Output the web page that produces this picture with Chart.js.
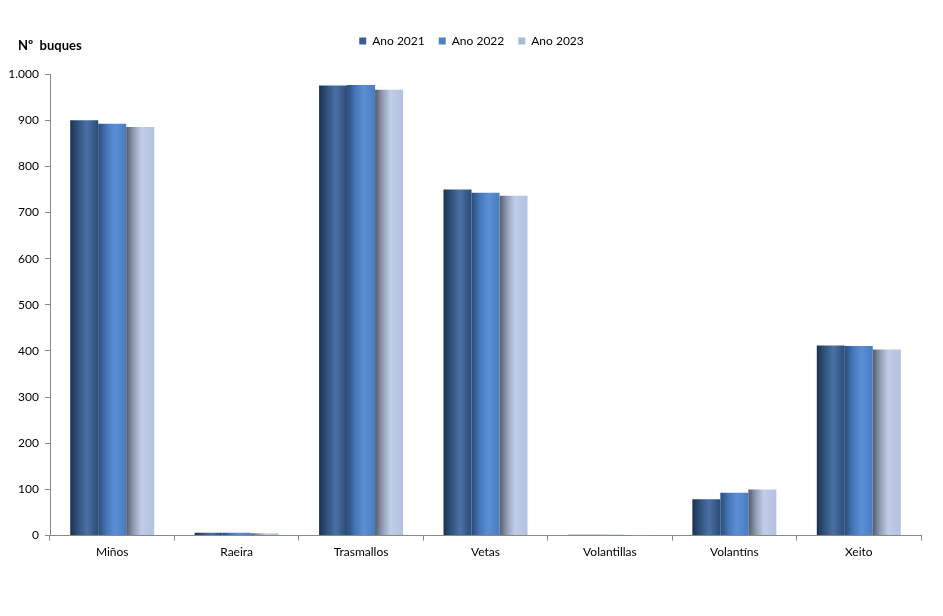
<!DOCTYPE html>
<html>
<head>
<meta charset="utf-8">
<script src="https://cdn.jsdelivr.net/npm/chart.js@4"></script>
<style>
  html, body { margin: 0; padding: 0; background: #fff; }
  #wrap { width: 943px; height: 616px; }
</style>
</head>
<body>
<div id="wrap"><canvas id="chart"></canvas></div>
<script>
const categories = ["Miños", "Raeira", "Trasmallos", "Vetas", "Volantillas", "Volantíns", "Xeito"];
const years = ["Ano 2021", "Ano 2022", "Ano 2023"];
const ano2021 = [900, 6, 975, 750, 2, 79, 412];
const ano2022 = [892, 6, 976, 743, 2, 93, 411];
const ano2023 = [885, 5, 966, 736, 1, 100, 403];

const legendColors = ["#3d5f8f", "#4f81bd", "#a9b9d8"];
// horizontal "cylinder" shading per series
const shades = [
    [[0, "#1d3150"], [0.3, "#32557f"], [0.6, "#4a70a5"], [1, "#2c4b77"]],
    [[0, "#2a4b78"], [0.3, "#4677ba"], [0.6, "#5b8fd6"], [1, "#4a7bbf"]],
    [[0, "#545b68"], [0.25, "#8e99b0"], [0.55, "#c1cde8"], [1, "#b3c1df"]]
];

const cylinderPlugin = {
    id: "cylinder",
    beforeInit(chart) {
        const legend = chart.legend;
        // push the plot area down below the legend
        const fit = legend.fit;
        legend.fit = function () {
            fit.call(this);
            this.height += 17;
        };
        // centre the legend on the whole canvas, not on the padded box
        const draw = legend.draw;
        legend.draw = function () {
            this.left += 11;
            this.right += 11;
            draw.call(this);
            this.left -= 11;
            this.right -= 11;
        };
    },
    beforeDatasetsDraw(chart) {
        const ctx = chart.ctx;
        chart.data.datasets.forEach((ds, i) => {
            chart.getDatasetMeta(i).data.forEach(bar => {
                const left = bar.x - bar.width / 2;
                const g = ctx.createLinearGradient(left, 0, left + bar.width, 0);
                shades[i].forEach(([p, c]) => g.addColorStop(p, c));
                if (!bar._shared || bar.options._own !== true) {
                    bar._shared = bar.options;
                }
                const opts = Object.create(bar._shared);
                opts._own = true;
                opts.backgroundColor = g;
                bar.options = opts;
            });
        });
    }
};

const unitLabel = {
    id: "unitLabel",
    afterDraw(chart) {
        const ctx = chart.ctx;
        ctx.save();
        ctx.font = "bold 13px Lato";
        ctx.fillStyle = "#000";
        ctx.textBaseline = "middle";
        ctx.fillText("Nº  buques", 18, 46);
        ctx.restore();
    }
};

Chart.defaults.font.family = "Lato";
Chart.defaults.font.size = 12;
Chart.defaults.color = "#000";

new Chart(document.getElementById("chart"), {
    type: "bar",
    data: {
        labels: categories,
        datasets: [ano2021, ano2022, ano2023].map((d, i) => ({
            label: years[i],
            data: d,
            backgroundColor: legendColors[i],
            borderWidth: 0,
            barPercentage: 1,
            categoryPercentage: 0.675
        }))
    },
    options: {
        responsive: true,
        maintainAspectRatio: false,
        animation: false,
        layout: {
            padding: { top: 21, right: 22, bottom: 53, left: 0 }
        },
        scales: {
            x: {
                grid: { display: true, drawOnChartArea: false, tickLength: 5, color: "#888" },
                border: { color: "#888" },
                ticks: { padding: 4 }
            },
            y: {
                min: 0,
                max: 1000,
                afterFit(scale) { scale.width = 50; },
                grid: { display: true, drawOnChartArea: false, tickLength: 5, color: "#888" },
                border: { color: "#888" },
                ticks: {
                    stepSize: 100,
                    padding: 6,
                    callback: v => v >= 1000 ? "1.000" : String(v)
                }
            }
        },
        plugins: {
            legend: {
                position: "top",
                labels: { boxWidth: 7, boxHeight: 7, padding: 14 }
            },
            tooltip: { enabled: false }
        }
    },
    plugins: [cylinderPlugin, unitLabel]
});
</script>
</body>
</html>
